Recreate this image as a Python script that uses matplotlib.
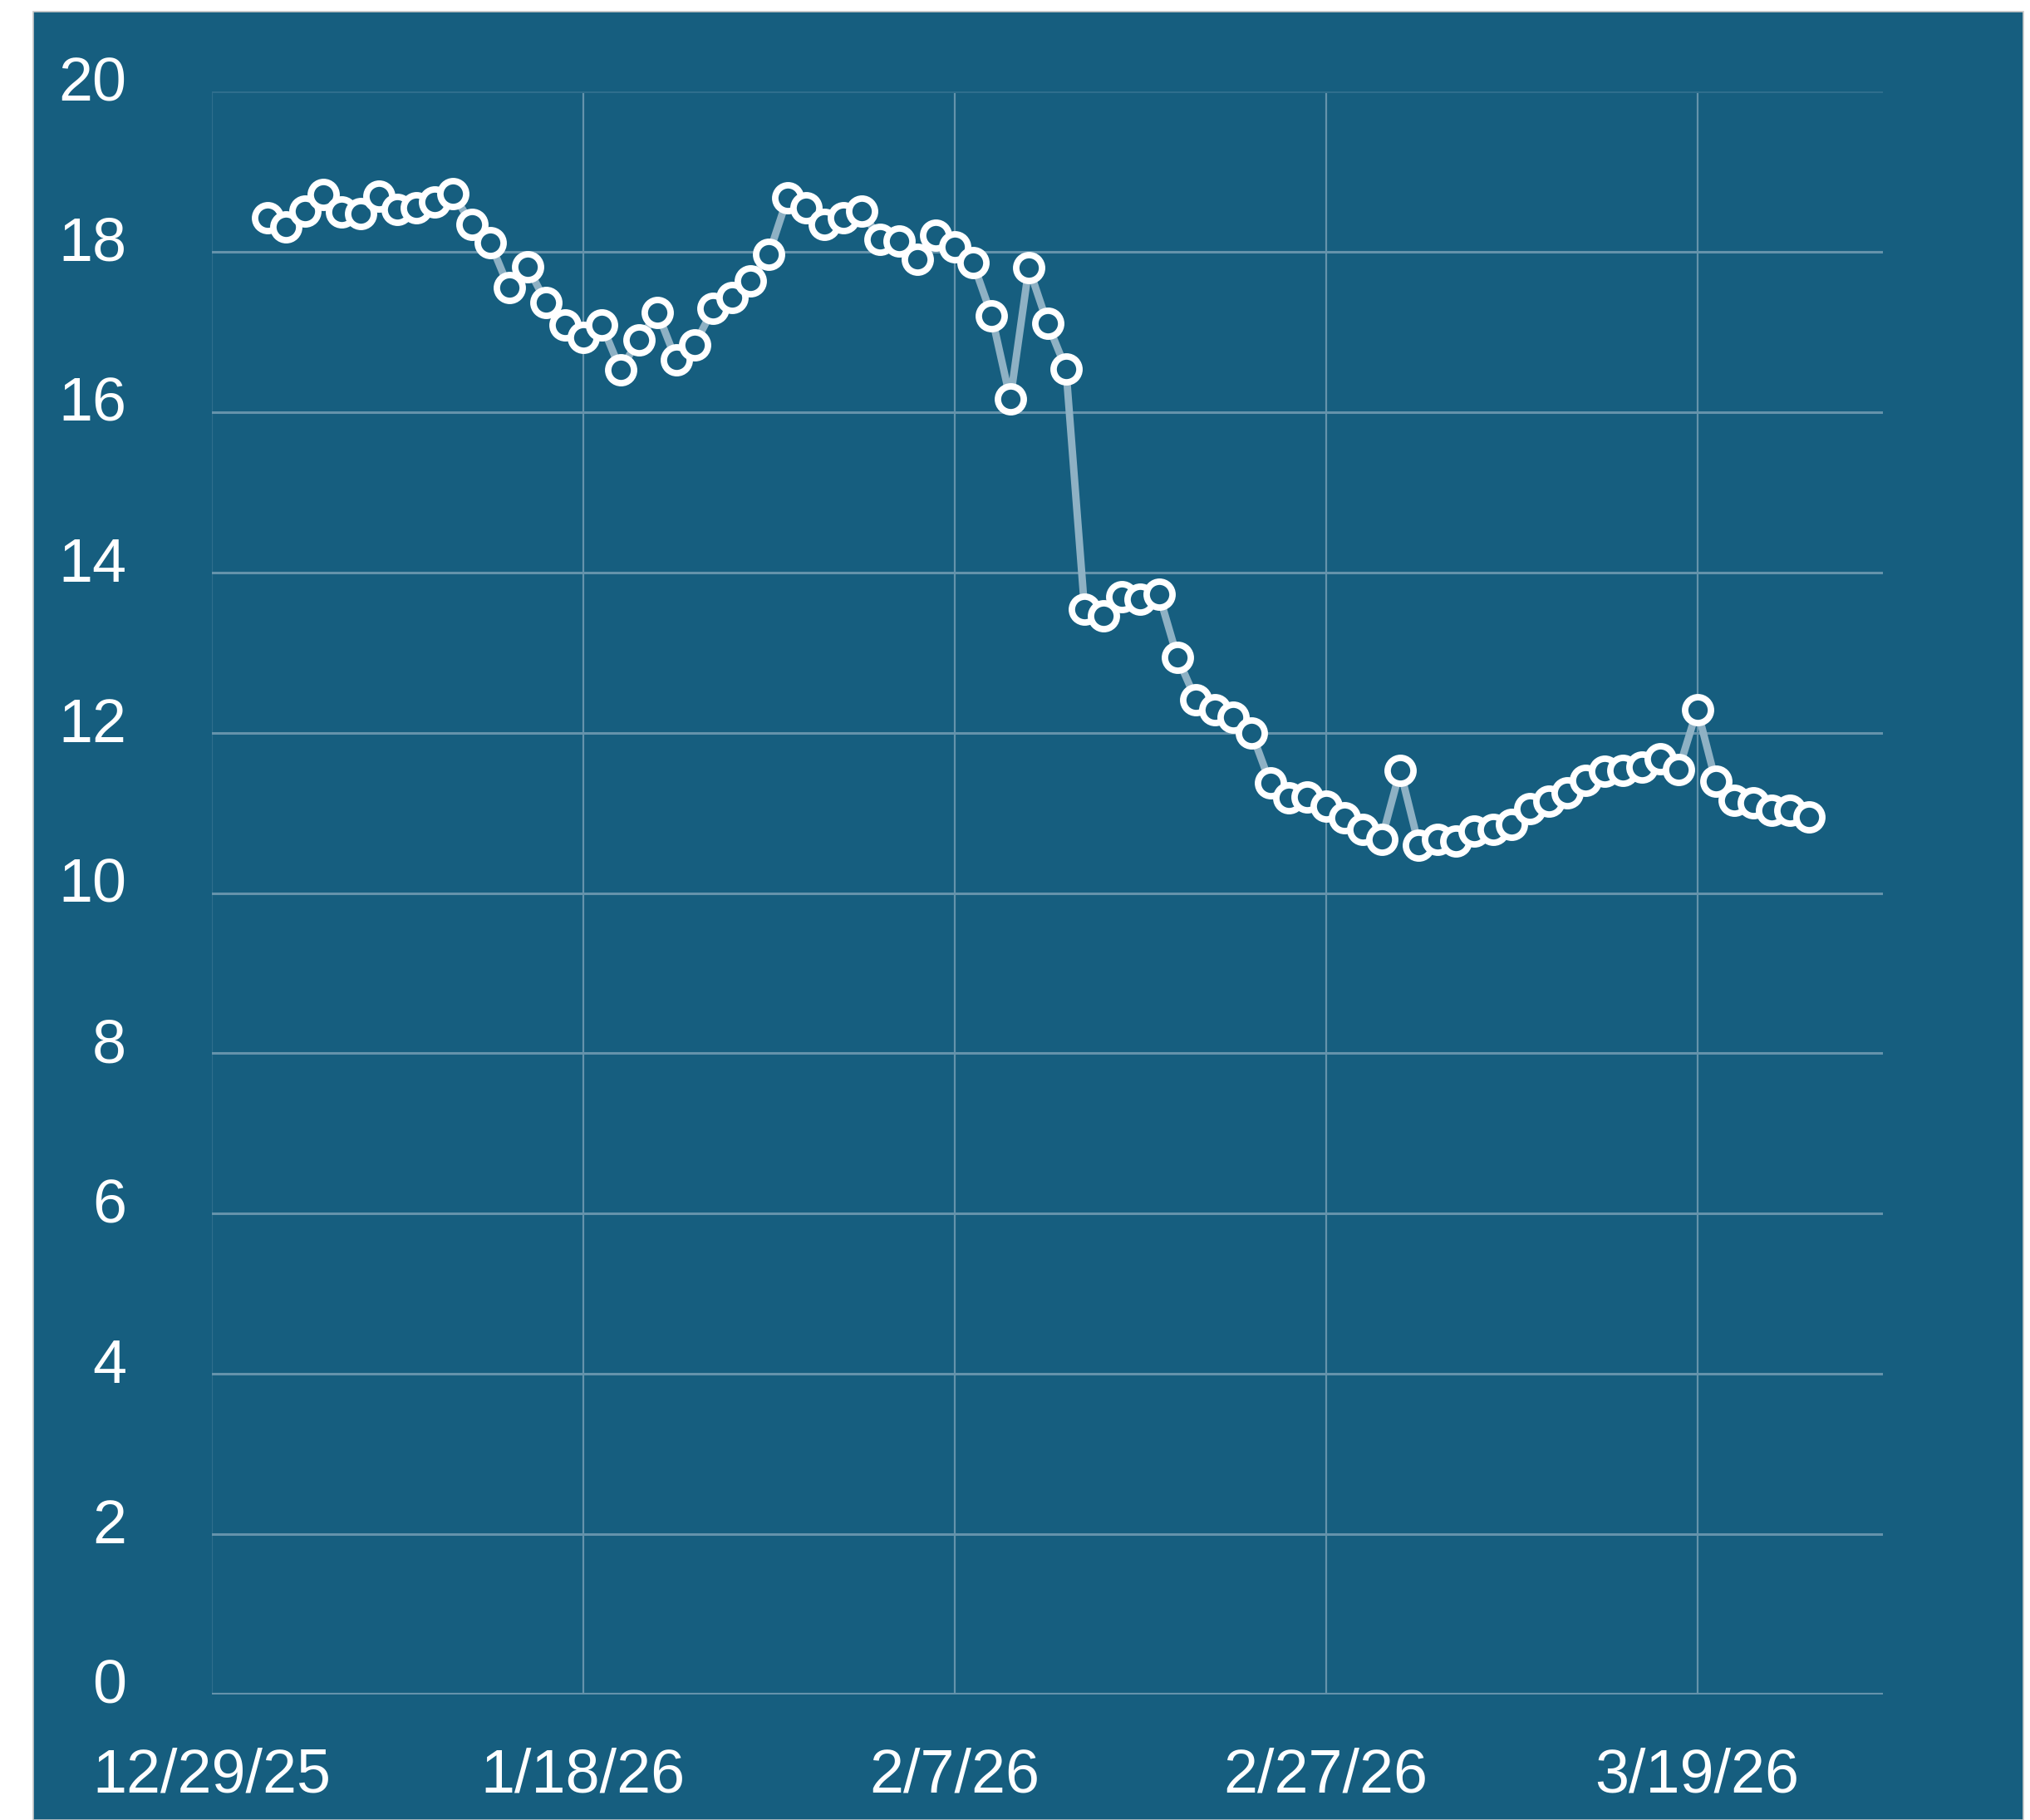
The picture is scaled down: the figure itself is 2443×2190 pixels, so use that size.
import matplotlib
matplotlib.use('Agg')
import matplotlib.pyplot as plt
import matplotlib.transforms as mtransforms
from matplotlib.patches import Rectangle
import numpy as np

# daily readings, 1/1/26 .. 3/25/26
dates = np.arange(np.datetime64('2026-01-01'), np.datetime64('2026-03-26'))
values = [18.42, 18.31, 18.51, 18.71, 18.50, 18.48, 18.69, 18.53, 18.55, 18.62,
          18.72, 18.34, 18.11, 17.55, 17.81, 17.37, 17.09, 16.93, 17.09, 16.53,
          16.90, 17.24, 16.65, 16.84, 17.29, 17.43, 17.64, 17.97, 18.67, 18.55,
          18.34, 18.42, 18.51, 18.15, 18.13, 17.91, 18.21, 18.06, 17.86, 17.20,
          16.16, 17.80, 17.11, 16.54, 13.54, 13.46, 13.70, 13.66, 13.73, 12.94,
          12.41, 12.29, 12.19, 12.00, 11.37, 11.19, 11.20, 11.08, 10.94, 10.79,
          10.67, 11.53, 10.60, 10.67, 10.65, 10.77, 10.79, 10.86, 11.05, 11.15,
          11.25, 11.40, 11.52, 11.53, 11.57, 11.67, 11.54, 12.29, 11.39, 11.16,
          11.12, 11.03, 11.03, 10.95]

xtick_dates = np.array(['2025-12-29', '2026-01-18', '2026-02-07', '2026-02-27', '2026-03-19'],
                       dtype='datetime64[D]')
xtick_labels = ['12/29/25', '1/18/26', '2/7/26', '2/27/26', '3/19/26']
yticks = [0, 2, 4, 6, 8, 10, 12, 14, 16, 18, 20]

bg = '#165E7F'
grid_col = '#6593AB'
line_col = '#8EB1C4'

W, H, dpi = 2443, 2190, 200
plt.rcParams['font.family'] = ['Liberation Sans', 'DejaVu Sans']

fig = plt.figure(figsize=(W / dpi, H / dpi), dpi=dpi, facecolor='white')
panel = Rectangle((40 / W, 0), (2435 - 40) / W, 1 - 14 / H, transform=fig.transFigure,
                  facecolor=bg, edgecolor='#c8c8c8', linewidth=0.6, zorder=-10)
fig.add_artist(panel)

ax = fig.add_axes([255 / W, 1 - 2039 / H, (2266 - 255) / W, (2039 - 110) / H])
ax.set_facecolor('none')

ax.plot(dates, values, color=line_col, linewidth=3.2, zorder=3,
        marker='o', markersize=11.2, markerfacecolor=bg, markeredgecolor='white',
        markeredgewidth=2.8)

ax.set_xlim(np.datetime64('2025-12-29'), np.datetime64('2026-03-29'))
ax.set_ylim(0, 20)
ax.set_xticks(xtick_dates)
ax.set_xticklabels(xtick_labels)
ax.set_yticks(yticks)

for s in ax.spines.values():
    s.set_visible(False)

ax.grid(True, axis='y', color=grid_col, linewidth=1.1, zorder=1)
ax.grid(True, axis='x', color=grid_col, linewidth=0.8, zorder=1)
ax.set_axisbelow(True)
# top and left gridlines are fainter in the original
ax.yaxis.get_gridlines()[-1].set_color('#2F6E8D')
ax.xaxis.get_gridlines()[0].set_color('#2F6E8D')
ax.yaxis.get_gridlines()[0].set_linewidth(1.5)

ax.tick_params(axis='both', length=0, labelcolor='white', labelsize=26.5)
ax.tick_params(axis='y', pad=37)
ax.tick_params(axis='x', pad=23)

shift = mtransforms.ScaledTranslation(0, 16 / dpi, fig.dpi_scale_trans)
for lab in ax.get_yticklabels():
    lab.set_transform(lab.get_transform() + shift)

fig.savefig('out.png', dpi=dpi, facecolor='white')
